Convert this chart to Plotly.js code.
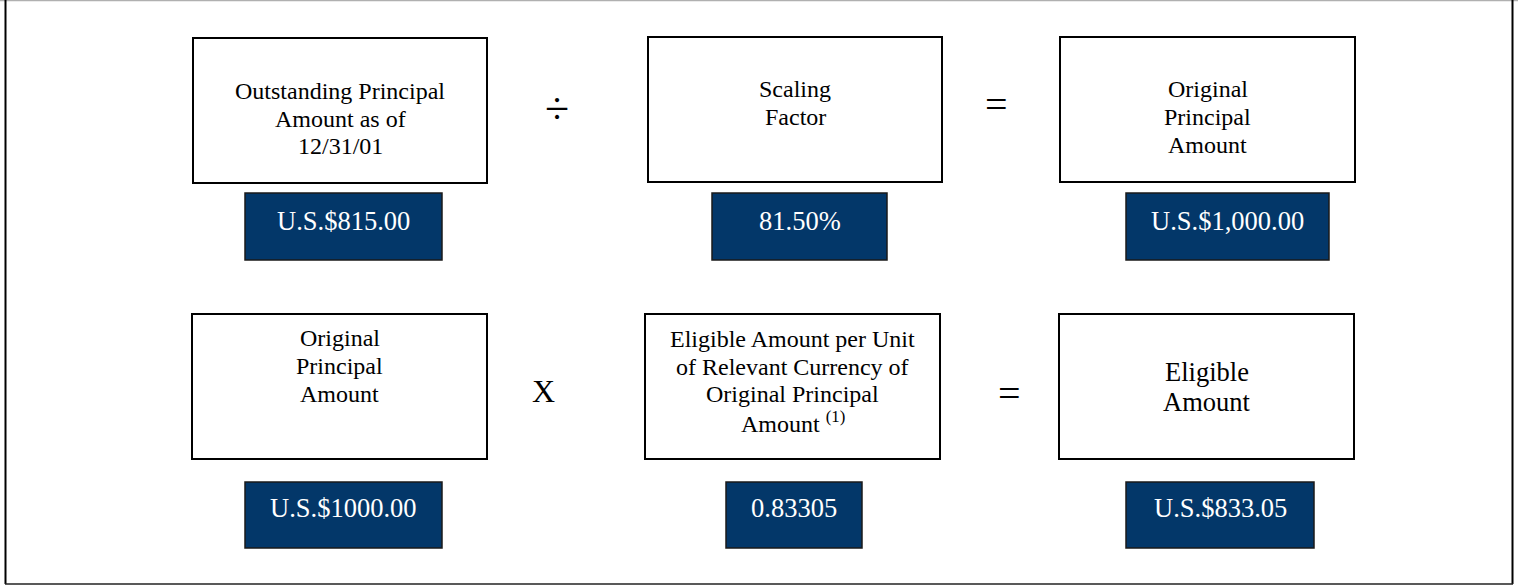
<!DOCTYPE html>
<html>
<head>
<meta charset="utf-8">
<script src="https://cdn.plot.ly/plotly-3.0.1.min.js"></script>
<style>
  html, body { margin: 0; padding: 0; background: #ffffff; }
  #chart { width: 1518px; height: 585px; }
</style>
</head>
<body>
<div id="chart"></div>
<script>
// ---- content (data) ----
const boxLabels = [
  ["Outstanding Principal", "Amount as of", "12/31/01"],
  ["Scaling", "Factor"],
  ["Original", "Principal", "Amount"],
  ["Original", "Principal", "Amount"],
  ["Eligible Amount per Unit", "of Relevant Currency of", "Original Principal", "Amount <sup>(1)</sup>"],
  ["Eligible", "Amount"]
];
const boxValues = ["U.S.$815.00", "81.50%", "U.S.$1,000.00", "U.S.$1000.00", "0.83305", "U.S.$833.05"];
const operators = ["÷", "=", "X", "="];

// ---- layout geometry (pixels) ----
const W = 1518, H = 585;
const labelBoxes = [
  [193, 487, 38, 183], [648, 942, 37, 182], [1060, 1355, 37, 182],
  [192, 487, 314, 459], [645, 940, 314, 459], [1059, 1354, 314, 459]
];
const valueBoxes = [
  [245, 442, 193, 260], [712, 887, 193, 260], [1126, 1329, 193, 260],
  [245, 442, 482, 548], [726, 862, 482, 548], [1126, 1314, 482, 548]
];
const firstLineY = [91, 89, 89, 338, 339, 372];
const lineGap = [27.7, 28, 28, 28, 27.6, 30];
const labelSize = [24, 24, 24, 24, 24, 26.5];
const valueTextY = [221, 221, 221, 508, 508, 508];
const opPos = [[557, 108], [996, 104], [543, 391], [1009, 393]];
const opSize = [44, 40, 32, 40];

const navy = "#033769";
const serif = "Liberation Serif";

const shapes = [];
const annotations = [];

// outer frame
shapes.push({type: "line", x0: 0, x1: W, y0: 0.5, y1: 0.5, line: {color: "#b0b0b0", width: 1.5}});
shapes.push({type: "line", x0: 5.5, x1: 5.5, y0: 0, y1: 584, line: {color: "#000000", width: 2}});
shapes.push({type: "line", x0: 1512.5, x1: 1512.5, y0: 0, y1: 584, line: {color: "#000000", width: 2}});
shapes.push({type: "line", x0: 5, x1: 1513, y0: 584, y1: 584, line: {color: "#222222", width: 1.5}});

labelBoxes.forEach((b, i) => {
  shapes.push({type: "rect", x0: b[0], x1: b[1], y0: b[2], y1: b[3],
    line: {color: "#000000", width: 2}, fillcolor: "#ffffff"});
  const cx = (b[0] + b[1]) / 2;
  boxLabels[i].forEach((t, j) => {
    annotations.push({x: cx, y: firstLineY[i] + j * lineGap[i], text: t,
      showarrow: false, xanchor: "center", yanchor: "middle",
      font: {family: serif, size: labelSize[i], color: "#000000"}});
  });
});

valueBoxes.forEach((b, i) => {
  shapes.push({type: "rect", x0: b[0], x1: b[1], y0: b[2], y1: b[3],
    line: {color: "#1a1a1a", width: 1.5}, fillcolor: navy});
  annotations.push({x: (b[0] + b[1]) / 2, y: valueTextY[i], text: boxValues[i],
    showarrow: false, xanchor: "center", yanchor: "middle",
    font: {family: serif, size: 26.5, color: "#ffffff"}});
});

operators.forEach((op, i) => {
  annotations.push({x: opPos[i][0], y: opPos[i][1], text: op, showarrow: false,
    xanchor: "center", yanchor: "middle",
    font: {family: serif, size: opSize[i], color: "#000000"}});
});

const layout = {
  width: W, height: H,
  margin: {l: 0, r: 0, t: 0, b: 0, pad: 0},
  paper_bgcolor: "#ffffff", plot_bgcolor: "#ffffff",
  showlegend: false,
  xaxis: {range: [0, W], visible: false, fixedrange: true},
  yaxis: {range: [H, 0], visible: false, fixedrange: true},
  shapes: shapes,
  annotations: annotations
};

Plotly.newPlot("chart", [], layout, {displayModeBar: false, staticPlot: true});
</script>
</body>
</html>
